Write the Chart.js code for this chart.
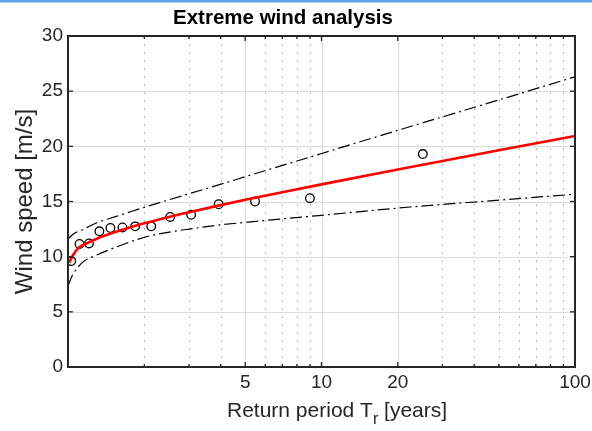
<!DOCTYPE html>
<html>
<head>
<meta charset="utf-8">
<title>Extreme wind analysis</title>
<script src="https://cdn.jsdelivr.net/npm/chart.js@4.4.0/dist/chart.umd.min.js"></script>
<style>
  html, body { margin: 0; padding: 0; background: #fff; }
  canvas { display: block; }
</style>
</head>
<body>
<canvas id="windChart" width="592" height="431"></canvas>
<script>
// Observed annual maxima (plotting positions)
const obsPeriod = [1.03, 1.11, 1.21, 1.33, 1.47, 1.64, 1.84, 2.13, 2.53, 3.06, 3.93, 5.47, 9.0, 25.1];
const obsSpeed = [9.6, 11.15, 11.2, 12.3, 12.6, 12.65, 12.75, 12.75, 13.6, 13.8, 14.75, 15.0, 15.3, 19.3];

// Fitted extreme value curve
const fitPeriod = [1.01, 1.05, 1.1, 1.2, 1.3, 1.5, 1.75, 2, 2.5, 3, 4, 5, 7, 10, 20, 50, 100];
const fitSpeed = [9.45, 10.2, 10.8, 11.26, 11.63, 12.16, 12.65, 13.03, 13.6, 14.03, 14.67, 15.15, 15.84, 16.55, 17.9, 19.64, 20.94];

// Confidence bounds
const upPeriod = [1.0, 1.05, 1.15, 1.22, 1.3, 1.54, 1.68, 2, 2.5, 3, 4.36, 5, 7.5, 10, 20, 50, 100];
const upSpeed = [11.6, 12.05, 12.48, 12.78, 13.08, 13.63, 13.91, 14.47, 15.15, 15.7, 16.82, 17.25, 18.47, 19.35, 21.45, 24.2, 26.3];
const loPeriod = [1.0, 1.03, 1.07, 1.1, 1.15, 1.3, 1.5, 1.87, 2.14, 2.57, 3, 4, 5.5, 10, 22.4, 50, 100];
const loSpeed = [7.34, 8.1, 8.75, 9.1, 9.55, 10.15, 10.75, 11.55, 11.93, 12.27, 12.5, 12.88, 13.2, 13.75, 14.5, 15.12, 15.66];

// Axis ticks
const xMajorTicks = [5, 10, 20, 100];
const xMinorTicks = [2, 3, 4, 6, 7, 8, 9, 30, 40, 50, 60, 70, 80, 90];
const yTicks = [0, 5, 10, 15, 20, 25, 30];

const FONT = '"Liberation Sans", Arial, Helvetica, sans-serif';
const AXIS_COLOR = '#262626';

const toPoints = (xs, ys) => xs.map((v, i) => ({ x: v, y: ys[i] }));

// grid lines, box and inward tick marks, MATLAB style
const axesFrame = {
  id: 'axesFrame',
  beforeDatasetsDraw(chart) {
    const { ctx, chartArea: a, scales: { x, y } } = chart;
    const vline = px => { ctx.beginPath(); ctx.moveTo(px, a.top); ctx.lineTo(px, a.bottom); ctx.stroke(); };
    const hline = py => { ctx.beginPath(); ctx.moveTo(a.left, py); ctx.lineTo(a.right, py); ctx.stroke(); };
    ctx.save();
    ctx.lineWidth = 1;
    ctx.strokeStyle = '#b4b4b4';
    ctx.setLineDash([2, 6]);
    xMinorTicks.forEach(v => vline(Math.round(x.getPixelForValue(v)) + 0.5));
    ctx.setLineDash([]);
    ctx.strokeStyle = '#dcdcdc';
    xMajorTicks.forEach(v => vline(Math.round(x.getPixelForValue(v)) + 0.5));
    yTicks.forEach(v => hline(Math.round(y.getPixelForValue(v)) + 0.5));
    ctx.restore();
  },
  afterDatasetsDraw(chart) {
    const { ctx, chartArea: a, scales: { x, y } } = chart;
    ctx.save();
    ctx.strokeStyle = AXIS_COLOR;
    ctx.lineWidth = 1.3;
    const tick = (x1, y1, x2, y2) => { ctx.beginPath(); ctx.moveTo(x1, y1); ctx.lineTo(x2, y2); ctx.stroke(); };
    yTicks.forEach(v => {
      const py = y.getPixelForValue(v);
      tick(a.left, py, a.left + 5, py);
      tick(a.right, py, a.right - 5, py);
    });
    xMajorTicks.forEach(v => {
      const px = x.getPixelForValue(v);
      tick(px, a.bottom, px, a.bottom - 5);
      tick(px, a.top, px, a.top + 5);
    });
    xMinorTicks.forEach(v => {
      const px = x.getPixelForValue(v);
      tick(px, a.bottom, px, a.bottom - 3);
      tick(px, a.top, px, a.top + 3);
    });
    ctx.lineWidth = 2;
    ctx.strokeRect(a.left, a.top, a.right - a.left, a.bottom - a.top);
    ctx.restore();
  },
  afterDraw(chart) {
    const { ctx, width, chartArea: a } = chart;
    ctx.save();
    // window accent strip
    ctx.fillStyle = '#5ea4ea';
    ctx.fillRect(0, 0, width, 2.5);

    ctx.fillStyle = '#000';
    ctx.font = 'bold 20.5px ' + FONT;
    ctx.textAlign = 'center';
    ctx.textBaseline = 'alphabetic';
    ctx.fillText('Extreme wind analysis', 283, 24);

    // y axis title
    ctx.fillStyle = AXIS_COLOR;
    ctx.save();
    ctx.translate(32, (a.top + a.bottom) / 2);
    ctx.rotate(-Math.PI / 2);
    ctx.font = '24px ' + FONT;
    ctx.fillText('Wind speed [m/s]', 0, 0);
    ctx.restore();

    // x axis title with subscript
    ctx.textAlign = 'left';
    const main = '21px ' + FONT, sub = '16px ' + FONT;
    const parts = [['Return period T', main, 0], ['r', sub, 7], [' [years]', main, 0]];
    let cx = 227;
    parts.forEach(([txt, f, dy]) => {
      ctx.font = f;
      ctx.fillText(txt, cx, 417 + dy);
      cx += ctx.measureText(txt).width;
    });
    ctx.restore();
  }
};

new Chart(document.getElementById('windChart'), {
  type: 'line',
  data: {
    datasets: [
      {
        label: 'Fit',
        data: toPoints(fitPeriod, fitSpeed),
        borderColor: '#ff0000',
        borderWidth: 2.6,
        pointRadius: 0,
        cubicInterpolationMode: 'monotone',
        fill: false
      },
      {
        label: 'Upper bound',
        data: toPoints(upPeriod, upSpeed),
        borderColor: '#000',
        borderWidth: 1.2,
        borderDash: [12, 4, 2, 4],
        pointRadius: 0,
        cubicInterpolationMode: 'monotone',
        fill: false
      },
      {
        label: 'Lower bound',
        data: toPoints(loPeriod, loSpeed),
        borderColor: '#000',
        borderWidth: 1.2,
        borderDash: [12, 4, 2, 4],
        pointRadius: 0,
        cubicInterpolationMode: 'monotone',
        fill: false
      },
      {
        label: 'Observed',
        data: toPoints(obsPeriod, obsSpeed),
        showLine: false,
        pointStyle: 'circle',
        pointRadius: 4.3,
        pointBorderWidth: 1.3,
        pointBorderColor: '#000',
        pointBackgroundColor: 'rgba(0,0,0,0)'
      }
    ]
  },
  options: {
    responsive: false,
    animation: false,
    devicePixelRatio: 1,
    layout: { padding: { top: 36, right: 17, left: 0, bottom: 0 } },
    plugins: {
      legend: { display: false },
      tooltip: { enabled: false },
      title: { display: false }
    },
    scales: {
      x: {
        type: 'logarithmic',
        min: 1,
        max: 100,
        grid: { display: false, drawTicks: false },
        border: { display: false },
        afterBuildTicks: s => { s.ticks = xMajorTicks.map(v => ({ value: v })); },
        afterFit: s => { s.height = 64; s.paddingLeft = 0; s.paddingRight = 0; },
        ticks: {
          autoSkip: false,
          maxRotation: 0,
          padding: 4,
          color: AXIS_COLOR,
          font: { family: FONT, size: 19 },
          callback: v => String(v)
        }
      },
      y: {
        min: 0,
        max: 30,
        grid: { display: false, drawTicks: false },
        border: { display: false },
        afterFit: s => { s.width = 68; s.paddingTop = 0; s.paddingBottom = 0; },
        ticks: {
          stepSize: 5,
          padding: 5,
          color: AXIS_COLOR,
          font: { family: FONT, size: 19 }
        }
      }
    }
  },
  plugins: [axesFrame]
});
</script>
</body>
</html>
